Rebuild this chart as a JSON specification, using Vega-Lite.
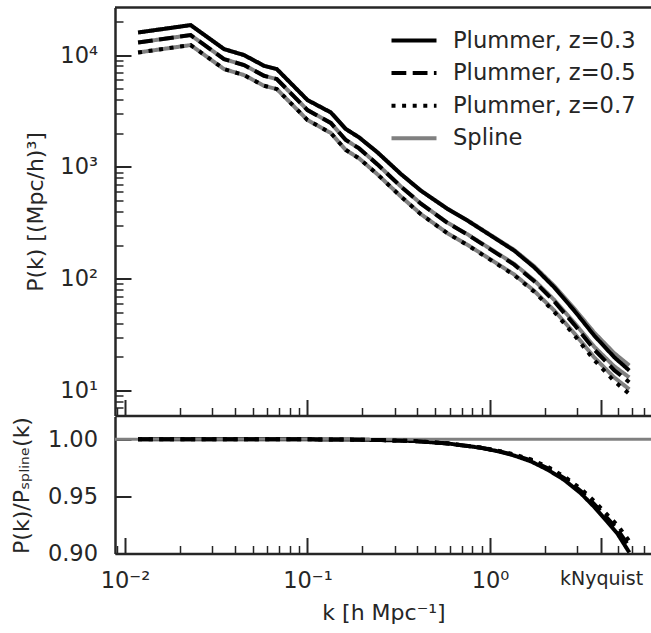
{
  "$schema": "https://vega.github.io/schema/vega-lite/v6.json",
  "background": "white",
  "padding": {"left": 10, "top": 5.5, "right": 0, "bottom": 0},
  "spacing": 0,
  "config": {
    "font": "DejaVu Sans",
    "view": {"stroke": null},
    "axis": {
      "grid": false,
      "domainColor": "#262626",
      "domainWidth": 2.5,
      "tickColor": "#262626",
      "labelColor": "#262626",
      "titleColor": "#262626",
      "labelFont": "DejaVu Sans",
      "titleFont": "DejaVu Sans",
      "labelFontSize": 22.5,
      "titleFontSize": 22,
      "titleFontWeight": "normal",
      "labelOverlap": false,
      "labelFlush": false
    },
    "legend": {
      "orient": "top-right",
      "offset": 16,
      "padding": 0,
      "labelFont": "DejaVu Sans",
      "labelFontSize": 22.6,
      "labelColor": "#262626",
      "labelLimit": 0,
      "symbolStrokeWidth": 4,
      "symbolType": "M-1.5,0H1.5",
      "symbolSize": 900,
      "labelOffset": 22,
      "rowPadding": 3.6
    }
  },
  "datasets": {
    "pk": [
      {"k": 0.0118, "P": 15920, "z": "0.3", "s": "Plummer, z=0.3"},
      {"k": 0.0229, "P": 18540, "z": "0.3", "s": "Plummer, z=0.3"},
      {"k": 0.0349, "P": 11315, "z": "0.3", "s": "Plummer, z=0.3"},
      {"k": 0.0449, "P": 10000, "z": "0.3", "s": "Plummer, z=0.3"},
      {"k": 0.0578, "P": 8023, "z": "0.3", "s": "Plummer, z=0.3"},
      {"k": 0.0679, "P": 7497, "z": "0.3", "s": "Plummer, z=0.3"},
      {"k": 0.1, "P": 3962, "z": "0.3", "s": "Plummer, z=0.3"},
      {"k": 0.1342, "P": 3069, "z": "0.3", "s": "Plummer, z=0.3"},
      {"k": 0.1622, "P": 2182, "z": "0.3", "s": "Plummer, z=0.3"},
      {"k": 0.1918, "P": 1835, "z": "0.3", "s": "Plummer, z=0.3"},
      {"k": 0.2419, "P": 1348, "z": "0.3", "s": "Plummer, z=0.3"},
      {"k": 0.3247, "P": 864.3, "z": "0.3", "s": "Plummer, z=0.3"},
      {"k": 0.418, "P": 612.9, "z": "0.3", "s": "Plummer, z=0.3"},
      {"k": 0.5855, "P": 420.6, "z": "0.3", "s": "Plummer, z=0.3"},
      {"k": 0.7535, "P": 330.6, "z": "0.3", "s": "Plummer, z=0.3"},
      {"k": 1.0114, "P": 242.8, "z": "0.3", "s": "Plummer, z=0.3"},
      {"k": 1.3569, "P": 178.3, "z": "0.3", "s": "Plummer, z=0.3"},
      {"k": 1.747, "P": 126.4, "z": "0.3", "s": "Plummer, z=0.3"},
      {"k": 2.2483, "P": 83.8, "z": "0.3", "s": "Plummer, z=0.3"},
      {"k": 2.8941, "P": 51.86, "z": "0.3", "s": "Plummer, z=0.3"},
      {"k": 3.7252, "P": 31.0, "z": "0.3", "s": "Plummer, z=0.3"},
      {"k": 4.7959, "P": 19.85, "z": "0.3", "s": "Plummer, z=0.3"},
      {"k": 5.7984, "P": 15.09, "z": "0.3", "s": "Plummer, z=0.3"},

      {"k": 0.0118, "P": 12959, "z": "0.5", "s": "Plummer, z=0.5"},
      {"k": 0.0229, "P": 15092, "z": "0.5", "s": "Plummer, z=0.5"},
      {"k": 0.0349, "P": 9210, "z": "0.5", "s": "Plummer, z=0.5"},
      {"k": 0.0449, "P": 8140, "z": "0.5", "s": "Plummer, z=0.5"},
      {"k": 0.0578, "P": 6531, "z": "0.5", "s": "Plummer, z=0.5"},
      {"k": 0.0679, "P": 6103, "z": "0.5", "s": "Plummer, z=0.5"},
      {"k": 0.1, "P": 3225, "z": "0.5", "s": "Plummer, z=0.5"},
      {"k": 0.1342, "P": 2472, "z": "0.5", "s": "Plummer, z=0.5"},
      {"k": 0.1622, "P": 1741, "z": "0.5", "s": "Plummer, z=0.5"},
      {"k": 0.1918, "P": 1464, "z": "0.5", "s": "Plummer, z=0.5"},
      {"k": 0.2419, "P": 1053, "z": "0.5", "s": "Plummer, z=0.5"},
      {"k": 0.3247, "P": 668.1, "z": "0.5", "s": "Plummer, z=0.5"},
      {"k": 0.418, "P": 468.9, "z": "0.5", "s": "Plummer, z=0.5"},
      {"k": 0.5855, "P": 315.3, "z": "0.5", "s": "Plummer, z=0.5"},
      {"k": 0.7535, "P": 247.9, "z": "0.5", "s": "Plummer, z=0.5"},
      {"k": 1.0114, "P": 182.0, "z": "0.5", "s": "Plummer, z=0.5"},
      {"k": 1.3569, "P": 133.7, "z": "0.5", "s": "Plummer, z=0.5"},
      {"k": 1.747, "P": 94.76, "z": "0.5", "s": "Plummer, z=0.5"},
      {"k": 2.2483, "P": 62.82, "z": "0.5", "s": "Plummer, z=0.5"},
      {"k": 2.8941, "P": 38.88, "z": "0.5", "s": "Plummer, z=0.5"},
      {"k": 3.7252, "P": 23.24, "z": "0.5", "s": "Plummer, z=0.5"},
      {"k": 4.7959, "P": 15.19, "z": "0.5", "s": "Plummer, z=0.5"},
      {"k": 5.7984, "P": 11.86, "z": "0.5", "s": "Plummer, z=0.5"},

      {"k": 0.0118, "P": 10549, "z": "0.7", "s": "Plummer, z=0.7"},
      {"k": 0.0229, "P": 12285, "z": "0.7", "s": "Plummer, z=0.7"},
      {"k": 0.0349, "P": 7497, "z": "0.7", "s": "Plummer, z=0.7"},
      {"k": 0.0449, "P": 6626, "z": "0.7", "s": "Plummer, z=0.7"},
      {"k": 0.0578, "P": 5316, "z": "0.7", "s": "Plummer, z=0.7"},
      {"k": 0.0679, "P": 4968, "z": "0.7", "s": "Plummer, z=0.7"},
      {"k": 0.1, "P": 2625, "z": "0.7", "s": "Plummer, z=0.7"},
      {"k": 0.1342, "P": 2012, "z": "0.7", "s": "Plummer, z=0.7"},
      {"k": 0.1622, "P": 1417, "z": "0.7", "s": "Plummer, z=0.7"},
      {"k": 0.1918, "P": 1192, "z": "0.7", "s": "Plummer, z=0.7"},
      {"k": 0.2419, "P": 857.1, "z": "0.7", "s": "Plummer, z=0.7"},
      {"k": 0.3247, "P": 543.8, "z": "0.7", "s": "Plummer, z=0.7"},
      {"k": 0.418, "P": 377.7, "z": "0.7", "s": "Plummer, z=0.7"},
      {"k": 0.5855, "P": 254.0, "z": "0.7", "s": "Plummer, z=0.7"},
      {"k": 0.7535, "P": 199.7, "z": "0.7", "s": "Plummer, z=0.7"},
      {"k": 1.0114, "P": 146.6, "z": "0.7", "s": "Plummer, z=0.7"},
      {"k": 1.3569, "P": 107.7, "z": "0.7", "s": "Plummer, z=0.7"},
      {"k": 1.747, "P": 76.34, "z": "0.7", "s": "Plummer, z=0.7"},
      {"k": 2.2483, "P": 50.61, "z": "0.7", "s": "Plummer, z=0.7"},
      {"k": 2.8941, "P": 31.32, "z": "0.7", "s": "Plummer, z=0.7"},
      {"k": 3.7252, "P": 18.72, "z": "0.7", "s": "Plummer, z=0.7"},
      {"k": 4.7959, "P": 12.12, "z": "0.7", "s": "Plummer, z=0.7"},
      {"k": 5.7984, "P": 9.34, "z": "0.7", "s": "Plummer, z=0.7"},

      {"k": 0.0118, "P": 15920, "z": "0.3", "s": "Spline"},
      {"k": 0.0229, "P": 18540, "z": "0.3", "s": "Spline"},
      {"k": 0.0349, "P": 11315, "z": "0.3", "s": "Spline"},
      {"k": 0.0449, "P": 10000, "z": "0.3", "s": "Spline"},
      {"k": 0.0578, "P": 8023, "z": "0.3", "s": "Spline"},
      {"k": 0.0679, "P": 7497, "z": "0.3", "s": "Spline"},
      {"k": 0.1, "P": 3962, "z": "0.3", "s": "Spline"},
      {"k": 0.1342, "P": 3069, "z": "0.3", "s": "Spline"},
      {"k": 0.1622, "P": 2182, "z": "0.3", "s": "Spline"},
      {"k": 0.1918, "P": 1835, "z": "0.3", "s": "Spline"},
      {"k": 0.2419, "P": 1348.7, "z": "0.3", "s": "Spline"},
      {"k": 0.3247, "P": 865.3, "z": "0.3", "s": "Spline"},
      {"k": 0.418, "P": 614.1, "z": "0.3", "s": "Spline"},
      {"k": 0.5855, "P": 422.1, "z": "0.3", "s": "Spline"},
      {"k": 0.7535, "P": 332.6, "z": "0.3", "s": "Spline"},
      {"k": 1.0114, "P": 245.1, "z": "0.3", "s": "Spline"},
      {"k": 1.3569, "P": 180.9, "z": "0.3", "s": "Spline"},
      {"k": 1.747, "P": 129.1, "z": "0.3", "s": "Spline"},
      {"k": 2.2483, "P": 86.4, "z": "0.3", "s": "Spline"},
      {"k": 2.8941, "P": 54.17, "z": "0.3", "s": "Spline"},
      {"k": 3.7252, "P": 32.95, "z": "0.3", "s": "Spline"},
      {"k": 4.7959, "P": 21.56, "z": "0.3", "s": "Spline"},
      {"k": 5.7984, "P": 16.75, "z": "0.3", "s": "Spline"},

      {"k": 0.0118, "P": 12959, "z": "0.5", "s": "Spline"},
      {"k": 0.0229, "P": 15092, "z": "0.5", "s": "Spline"},
      {"k": 0.0349, "P": 9210, "z": "0.5", "s": "Spline"},
      {"k": 0.0449, "P": 8140, "z": "0.5", "s": "Spline"},
      {"k": 0.0578, "P": 6531, "z": "0.5", "s": "Spline"},
      {"k": 0.0679, "P": 6103, "z": "0.5", "s": "Spline"},
      {"k": 0.1, "P": 3225, "z": "0.5", "s": "Spline"},
      {"k": 0.1342, "P": 2472, "z": "0.5", "s": "Spline"},
      {"k": 0.1622, "P": 1741, "z": "0.5", "s": "Spline"},
      {"k": 0.1918, "P": 1464, "z": "0.5", "s": "Spline"},
      {"k": 0.2419, "P": 1053.5, "z": "0.5", "s": "Spline"},
      {"k": 0.3247, "P": 668.8, "z": "0.5", "s": "Spline"},
      {"k": 0.418, "P": 469.8, "z": "0.5", "s": "Spline"},
      {"k": 0.5855, "P": 316.4, "z": "0.5", "s": "Spline"},
      {"k": 0.7535, "P": 249.4, "z": "0.5", "s": "Spline"},
      {"k": 1.0114, "P": 183.7, "z": "0.5", "s": "Spline"},
      {"k": 1.3569, "P": 135.6, "z": "0.5", "s": "Spline"},
      {"k": 1.747, "P": 96.66, "z": "0.5", "s": "Spline"},
      {"k": 2.2483, "P": 64.67, "z": "0.5", "s": "Spline"},
      {"k": 2.8941, "P": 40.53, "z": "0.5", "s": "Spline"},
      {"k": 3.7252, "P": 24.64, "z": "0.5", "s": "Spline"},
      {"k": 4.7959, "P": 16.44, "z": "0.5", "s": "Spline"},
      {"k": 5.7984, "P": 13.09, "z": "0.5", "s": "Spline"},

      {"k": 0.0118, "P": 10549, "z": "0.7", "s": "Spline"},
      {"k": 0.0229, "P": 12285, "z": "0.7", "s": "Spline"},
      {"k": 0.0349, "P": 7497, "z": "0.7", "s": "Spline"},
      {"k": 0.0449, "P": 6626, "z": "0.7", "s": "Spline"},
      {"k": 0.0578, "P": 5316, "z": "0.7", "s": "Spline"},
      {"k": 0.0679, "P": 4968, "z": "0.7", "s": "Spline"},
      {"k": 0.1, "P": 2625, "z": "0.7", "s": "Spline"},
      {"k": 0.1342, "P": 2012, "z": "0.7", "s": "Spline"},
      {"k": 0.1622, "P": 1417, "z": "0.7", "s": "Spline"},
      {"k": 0.1918, "P": 1192, "z": "0.7", "s": "Spline"},
      {"k": 0.2419, "P": 857.5, "z": "0.7", "s": "Spline"},
      {"k": 0.3247, "P": 544.4, "z": "0.7", "s": "Spline"},
      {"k": 0.418, "P": 378.4, "z": "0.7", "s": "Spline"},
      {"k": 0.5855, "P": 254.9, "z": "0.7", "s": "Spline"},
      {"k": 0.7535, "P": 200.9, "z": "0.7", "s": "Spline"},
      {"k": 1.0114, "P": 148.0, "z": "0.7", "s": "Spline"},
      {"k": 1.3569, "P": 109.1, "z": "0.7", "s": "Spline"},
      {"k": 1.747, "P": 77.79, "z": "0.7", "s": "Spline"},
      {"k": 2.2483, "P": 52.02, "z": "0.7", "s": "Spline"},
      {"k": 2.8941, "P": 32.58, "z": "0.7", "s": "Spline"},
      {"k": 3.7252, "P": 19.79, "z": "0.7", "s": "Spline"},
      {"k": 4.7959, "P": 13.07, "z": "0.7", "s": "Spline"},
      {"k": 5.7984, "P": 10.25, "z": "0.7", "s": "Spline"}
    ],
    "ratio": [
      {"k": 0.0118, "r": 1.0, "s": "Plummer, z=0.3"},
      {"k": 0.0229, "r": 1.0, "s": "Plummer, z=0.3"},
      {"k": 0.0449, "r": 1.0, "s": "Plummer, z=0.3"},
      {"k": 0.1, "r": 1.0, "s": "Plummer, z=0.3"},
      {"k": 0.1622, "r": 0.9998, "s": "Plummer, z=0.3"},
      {"k": 0.2522, "r": 0.9994, "s": "Plummer, z=0.3"},
      {"k": 0.3841, "r": 0.9985, "s": "Plummer, z=0.3"},
      {"k": 0.5855, "r": 0.9964, "s": "Plummer, z=0.3"},
      {"k": 0.8914, "r": 0.9926, "s": "Plummer, z=0.3"},
      {"k": 1.1009, "r": 0.9896, "s": "Plummer, z=0.3"},
      {"k": 1.3569, "r": 0.9858, "s": "Plummer, z=0.3"},
      {"k": 1.6755, "r": 0.9807, "s": "Plummer, z=0.3"},
      {"k": 2.0696, "r": 0.9734, "s": "Plummer, z=0.3"},
      {"k": 2.5514, "r": 0.9645, "s": "Plummer, z=0.3"},
      {"k": 3.1513, "r": 0.9526, "s": "Plummer, z=0.3"},
      {"k": 3.7252, "r": 0.9408, "s": "Plummer, z=0.3"},
      {"k": 4.4127, "r": 0.9275, "s": "Plummer, z=0.3"},
      {"k": 5.0061, "r": 0.9171, "s": "Plummer, z=0.3"},
      {"k": 5.7984, "r": 0.9009, "s": "Plummer, z=0.3"},

      {"k": 0.0118, "r": 1.0, "s": "Plummer, z=0.5"},
      {"k": 0.0229, "r": 1.0, "s": "Plummer, z=0.5"},
      {"k": 0.0449, "r": 1.0, "s": "Plummer, z=0.5"},
      {"k": 0.1, "r": 1.0, "s": "Plummer, z=0.5"},
      {"k": 0.1622, "r": 0.9998, "s": "Plummer, z=0.5"},
      {"k": 0.2522, "r": 0.9994, "s": "Plummer, z=0.5"},
      {"k": 0.3841, "r": 0.9985, "s": "Plummer, z=0.5"},
      {"k": 0.5855, "r": 0.9964, "s": "Plummer, z=0.5"},
      {"k": 0.8914, "r": 0.9927, "s": "Plummer, z=0.5"},
      {"k": 1.1009, "r": 0.9899, "s": "Plummer, z=0.5"},
      {"k": 1.3569, "r": 0.9863, "s": "Plummer, z=0.5"},
      {"k": 1.6755, "r": 0.9816, "s": "Plummer, z=0.5"},
      {"k": 2.0696, "r": 0.9747, "s": "Plummer, z=0.5"},
      {"k": 2.5514, "r": 0.966, "s": "Plummer, z=0.5"},
      {"k": 3.1513, "r": 0.9546, "s": "Plummer, z=0.5"},
      {"k": 3.7252, "r": 0.9433, "s": "Plummer, z=0.5"},
      {"k": 4.4127, "r": 0.9305, "s": "Plummer, z=0.5"},
      {"k": 5.0061, "r": 0.9209, "s": "Plummer, z=0.5"},
      {"k": 5.7984, "r": 0.9059, "s": "Plummer, z=0.5"},

      {"k": 0.0118, "r": 1.0, "s": "Plummer, z=0.7"},
      {"k": 0.0229, "r": 1.0, "s": "Plummer, z=0.7"},
      {"k": 0.0449, "r": 1.0, "s": "Plummer, z=0.7"},
      {"k": 0.1, "r": 1.0, "s": "Plummer, z=0.7"},
      {"k": 0.1622, "r": 0.9998, "s": "Plummer, z=0.7"},
      {"k": 0.2522, "r": 0.9994, "s": "Plummer, z=0.7"},
      {"k": 0.3841, "r": 0.9985, "s": "Plummer, z=0.7"},
      {"k": 0.5855, "r": 0.9965, "s": "Plummer, z=0.7"},
      {"k": 0.8914, "r": 0.9928, "s": "Plummer, z=0.7"},
      {"k": 1.1009, "r": 0.9901, "s": "Plummer, z=0.7"},
      {"k": 1.3569, "r": 0.9868, "s": "Plummer, z=0.7"},
      {"k": 1.6755, "r": 0.9824, "s": "Plummer, z=0.7"},
      {"k": 2.0696, "r": 0.9759, "s": "Plummer, z=0.7"},
      {"k": 2.5514, "r": 0.9675, "s": "Plummer, z=0.7"},
      {"k": 3.1513, "r": 0.9566, "s": "Plummer, z=0.7"},
      {"k": 3.7252, "r": 0.9458, "s": "Plummer, z=0.7"},
      {"k": 4.4127, "r": 0.9335, "s": "Plummer, z=0.7"},
      {"k": 5.0061, "r": 0.9246, "s": "Plummer, z=0.7"},
      {"k": 5.7984, "r": 0.9109, "s": "Plummer, z=0.7"},

      {"k": 0.0085, "r": 1.0, "s": "Spline"},
      {"k": 8.0, "r": 1.0, "s": "Spline"}
    ]
  },
  "resolve": {"scale": {"color": "independent", "strokeDash": "independent"}},
  "vconcat": [
    {
      "width": 537,
      "height": 408,
      "layer": [
        {
          "data": {"name": "pk"},
          "transform": [{"filter": "datum.s == 'Spline'"}],
          "mark": {"type": "line", "strokeWidth": 4, "clip": true},
          "encoding": {
            "x": {
              "field": "k", "type": "quantitative",
              "scale": {"type": "log", "domain": [0.00882, 7.72], "nice": false},
              "axis": {
                "title": null,
                "labels": false,
                "values": [0.009, 0.01, 0.02, 0.03, 0.04, 0.05, 0.06, 0.07, 0.08, 0.09, 0.1, 0.2, 0.3, 0.4, 0.5, 0.6, 0.7, 0.8, 0.9, 1, 2, 3, 4.06, 5, 6, 7],
                "tickSize": {"condition": {"test": "datum.value == 0.01 || datum.value == 0.1 || datum.value == 1 || datum.value == 4.06", "value": -16}, "value": -8},
                "tickWidth": {"condition": {"test": "datum.value == 0.01 || datum.value == 0.1 || datum.value == 1 || datum.value == 4.06", "value": 2}, "value": 1.5}
              }
            },
            "y": {
              "field": "P", "type": "quantitative",
              "scale": {"type": "log", "domain": [5.98, 26640], "nice": false},
              "axis": {
                "title": "P(k) [(Mpc/h)³]",
                "titlePadding": 12,
                "values": [6, 7, 8, 9, 10, 20, 30, 40, 50, 60, 70, 80, 90, 100, 200, 300, 400, 500, 600, 700, 800, 900, 1000, 2000, 3000, 4000, 5000, 6000, 7000, 8000, 9000, 10000, 20000],
                "labelExpr": "datum.value == 10 ? '10¹' : datum.value == 100 ? '10²' : datum.value == 1000 ? '10³' : datum.value == 10000 ? '10⁴' : ''",
                "labelFontSize": {"condition": {"test": "datum.value == 10 || datum.value == 100 || datum.value == 1000 || datum.value == 10000", "value": 22.5}, "value": 0},
                "labelPadding": 33.5,
                "tickSize": {"condition": {"test": "datum.value == 10 || datum.value == 100 || datum.value == 1000 || datum.value == 10000", "value": -16}, "value": -8},
                "tickWidth": {"condition": {"test": "datum.value == 10 || datum.value == 100 || datum.value == 1000 || datum.value == 10000", "value": 2}, "value": 1.5}
              }
            },
            "color": {
              "field": "s", "type": "nominal",
              "scale": {"domain": ["Plummer, z=0.3", "Plummer, z=0.5", "Plummer, z=0.7", "Spline"], "range": ["#000000", "#000000", "#000000", "#808080"]},
              "legend": {"title": null}
            },
            "strokeDash": {
              "field": "s", "type": "nominal",
              "scale": {"domain": ["Plummer, z=0.3", "Plummer, z=0.5", "Plummer, z=0.7", "Spline"], "range": [[1, 0], [14.8, 6.4], [4, 6.6], [1, 0]]},
              "legend": {"title": null}
            },
            "detail": {"field": "z", "type": "nominal"}
          }
        },
        {
          "data": {"name": "pk"},
          "transform": [{"filter": "datum.s != 'Spline'"}],
          "mark": {"type": "line", "strokeWidth": 4, "clip": true},
          "encoding": {
            "x": {"field": "k", "type": "quantitative"},
            "y": {"field": "P", "type": "quantitative"},
            "color": {"field": "s", "type": "nominal", "legend": {"title": null}},
            "strokeDash": {"field": "s", "type": "nominal", "legend": {"title": null}}
          }
        },
        {
          "data": {"values": [{}]},
          "mark": {"type": "rule", "color": "#262626", "strokeWidth": 2.5},
          "encoding": {"y": {"datum": 26640}}
        }
      ]
    },
    {
      "width": 537,
      "height": 137,
      "layer": [
        {
          "data": {"name": "ratio"},
          "transform": [{"filter": "datum.s == 'Plummer, z=0.3'"}],
          "mark": {"type": "line", "strokeWidth": 4, "clip": true},
          "encoding": {
            "x": {
              "field": "k", "type": "quantitative",
              "scale": {"type": "log", "domain": [0.00882, 7.72], "nice": false},
              "axis": {
                "title": "k [h Mpc⁻¹]",
                "titlePadding": 10,
                "values": [0.009, 0.01, 0.02, 0.03, 0.04, 0.05, 0.06, 0.07, 0.08, 0.09, 0.1, 0.2, 0.3, 0.4, 0.5, 0.6, 0.7, 0.8, 0.9, 1, 2, 3, 4.06, 5, 6, 7],
                "labelExpr": "datum.value == 0.01 ? '10⁻²' : datum.value == 0.1 ? '10⁻¹' : datum.value == 1 ? '10⁰' : datum.value == 4.06 ? 'kNyquist' : ''",
                "labelPadding": 32,
                "labelFontSize": {"condition": [{"test": "datum.value == 4.06", "value": 19}, {"test": "datum.value == 0.01 || datum.value == 0.1 || datum.value == 1", "value": 22.5}], "value": 0},
                "tickSize": {"condition": {"test": "datum.value == 0.01 || datum.value == 0.1 || datum.value == 1 || datum.value == 4.06", "value": -16}, "value": -8},
                "tickWidth": {"condition": {"test": "datum.value == 0.01 || datum.value == 0.1 || datum.value == 1 || datum.value == 4.06", "value": 2}, "value": 1.5}
              }
            },
            "y": {
              "field": "r", "type": "quantitative",
              "scale": {"domain": [0.9, 1.02], "nice": false, "zero": false},
              "axis": {
                "title": "P(k)/Pₛₚₗᵢₙₑ(k)",
                "titlePadding": 14,
                "values": [0.9, 0.95, 1.0],
                "format": ".2f",
                "labelPadding": 33.5,
                "tickSize": -16,
                "tickWidth": 2
              }
            },
            "color": {
              "field": "s", "type": "nominal",
              "scale": {"domain": ["Plummer, z=0.3", "Plummer, z=0.5", "Plummer, z=0.7", "Spline"], "range": ["#000000", "#000000", "#000000", "#808080"]},
              "legend": null
            },
            "strokeDash": {
              "field": "s", "type": "nominal",
              "scale": {"domain": ["Plummer, z=0.3", "Plummer, z=0.5", "Plummer, z=0.7", "Spline"], "range": [[1, 0], [14.8, 6.4], [4, 6.6], [1, 0]]},
              "legend": null
            }
          }
        },
        {
          "data": {"name": "ratio"},
          "transform": [{"filter": "datum.s == 'Spline'"}],
          "mark": {"type": "line", "strokeWidth": 3, "clip": true},
          "encoding": {
            "x": {"field": "k", "type": "quantitative"},
            "y": {"field": "r", "type": "quantitative"},
            "color": {"field": "s", "type": "nominal", "legend": null},
            "strokeDash": {"field": "s", "type": "nominal", "legend": null}
          }
        },
        {
          "data": {"name": "ratio"},
          "transform": [{"filter": "datum.s == 'Plummer, z=0.5' || datum.s == 'Plummer, z=0.7'"}],
          "mark": {"type": "line", "strokeWidth": 4, "clip": true},
          "encoding": {
            "x": {"field": "k", "type": "quantitative"},
            "y": {"field": "r", "type": "quantitative"},
            "color": {"field": "s", "type": "nominal", "legend": null},
            "strokeDash": {"field": "s", "type": "nominal", "legend": null}
          }
        }
      ]
    }
  ]
}
